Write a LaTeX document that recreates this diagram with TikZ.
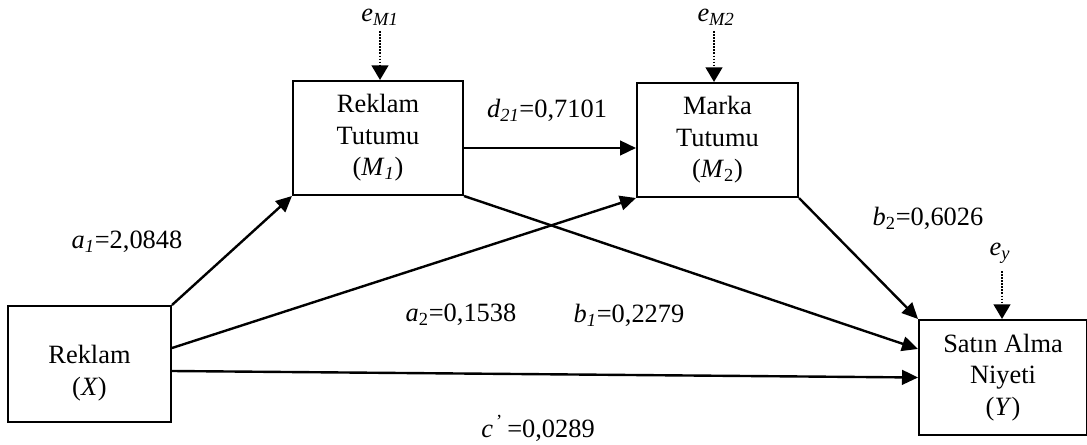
\documentclass[tikz,border=0pt]{standalone}
\usepackage{fontspec}
\setmainfont{Liberation Serif}
\usetikzlibrary{arrows.meta}
\begin{document}
\begin{tikzpicture}[x=0.75pt,y=-0.75pt, font=\fontsize{19.8}{23.6}\selectfont,
 box/.style={draw, line width=1.5pt, inner sep=0pt, align=center},
 arr/.style={line width=1.8pt, -{Triangle[length=12pt,width=11pt]}},
 err/.style={line width=1.8pt, dash pattern=on 1.2pt off 1.1pt, -{Triangle[length=11pt,width=12.5pt]}},
 lab/.style={inner sep=0pt}]
\useasboundingbox (0,0) rectangle (1087,445);
% boxes
\node[box, minimum width=122.25pt, minimum height=87pt] (X) at (89.5,364) {};
\node[lab, align=center] (Xt) at (89.5,373) {Reklam\\(\textit{X})};
\node[box, minimum width=127.5pt, minimum height=85.5pt] (M1) at (378,138) {Reklam\\Tutumu\\(\textit{M}\textsubscript{\textit{1}})};
\node[box, minimum width=120.75pt, minimum height=85.5pt] (M2) at (717.5,140) {Marka\\Tutumu\\(\textit{M}\textsubscript{2})};
\node[box, minimum width=126pt, minimum height=86.25pt] (Y) at (1003,377.5) {Sat\i n Alma\\Niyeti\\(\textit{Y})};
% error terms
\node[lab] (eM1) at (380,17) {\textit{e}\textsubscript{\textit{M1}}};
\node[lab] (eM2) at (716,17) {\textit{e}\textsubscript{\textit{M2}}};
\node[lab] (ey) at (1000,253) {\textit{e}\textsubscript{\textit{y}}};
\coordinate (eM1s) at (380,31);
\coordinate (eM2s) at (714,31);
\coordinate (eys) at (1002,271);
\draw[err] (eM1s) -- (eM1s |- M1.north);
\draw[err] (eM2s) -- (eM2s |- M2.north);
\draw[err] (eys) -- (eys |- Y.north);
% paths
\draw[arr] (X.north east) -- (M1.south west);
\draw[arr] ([yshift=12pt]X.east) -- (M2.south west);
\draw[arr] ([yshift=-5.25pt]X.east) -- (Y.west);
\draw[arr] (M1.south east) -- ([yshift=21.4pt]Y.west);
\draw[arr] (M2.south east) -- (Y.north west);
\draw[arr] ([yshift=-7.5pt]M1.east) -- ([yshift=-7.5pt]M1.east -| M2.west);
% coefficients
\node[lab] (la1) at (127,242) {\textit{a}\textsubscript{\textit{1}}=2,0848};
\node[lab] (ld21) at (547,110) {\textit{d}\textsubscript{\textit{21}}=0,7101};
\node[lab] (la2) at (461,315) {\textit{a}\textsubscript{2}=0,1538};
\node[lab] (lb1) at (629,315) {\textit{b}\textsubscript{\textit{1}}=0,2279};
\node[lab] (lb2) at (928,218) {\textit{b}\textsubscript{2}=0,6026};
\node[lab] (lc) at (538,428) {\textit{c}\textsuperscript{\,'}\,=0,0289};
\end{tikzpicture}
\end{document}
